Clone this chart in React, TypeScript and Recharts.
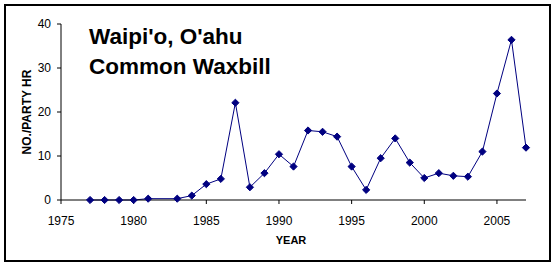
import { LineChart, Line, XAxis, YAxis } from 'recharts';

// Waipi'o, O'ahu — Common Waxbill, birds per party-hour
const years = [
  1977, 1978, 1979, 1980, 1981, 1983, 1984, 1985, 1986, 1987, 1988, 1989, 1990, 1991,
  1992, 1993, 1994, 1995, 1996, 1997, 1998, 1999, 2000, 2001, 2002, 2003, 2004, 2005,
  2006, 2007,
];
const perPartyHour = [
  0, 0, 0, 0, 0.3, 0.3, 1.0, 3.6, 4.8, 22.1, 2.9, 6.1, 10.4, 7.6,
  15.8, 15.5, 14.4, 7.6, 2.3, 9.5, 14.0, 8.5, 5.0, 6.1, 5.5, 5.3, 11.0, 24.2,
  36.4, 11.9,
];
const xTicks = [1975, 1980, 1985, 1990, 1995, 2000, 2005];
const yTicks = [0, 10, 20, 30, 40];

const chartData = years.map((year, i) => ({ year, value: perPartyHour[i] }));

const NAVY = '#000080';
const FONT = 'Arial, "Liberation Sans", sans-serif';

const Diamond = (props: any) => {
  const { cx, cy, index } = props;
  if (cx == null || cy == null) return null;
  const r = 3.6;
  return (
    <path
      key={index}
      d={`M${cx},${cy - r}L${cx + r},${cy}L${cx},${cy + r}L${cx - r},${cy}Z`}
      fill={NAVY}
      stroke={NAVY}
      strokeWidth={1}
    />
  );
};

export default function App() {
  return (
    <div style={{ position: 'absolute', left: 0, top: 0, width: 556, height: 267, background: '#fff' }}>
      <LineChart
        width={556}
        height={267}
        data={chartData}
        margin={{ top: 24, right: 30, bottom: 37, left: 21 }}
      >
        <XAxis
          dataKey="year"
          type="number"
          domain={[1975, 2007]}
          ticks={xTicks}
          height={30}
          tickSize={4}
          tickMargin={12}
          stroke="#000"
          tick={{ fill: '#000', fontSize: 12, fontFamily: FONT }}
        />
        <YAxis
          type="number"
          domain={[0, 40]}
          ticks={yTicks}
          width={40}
          tickSize={4}
          tickMargin={6}
          stroke="#000"
          tick={{ fill: '#000', fontSize: 12, fontFamily: FONT }}
        />
        <Line
          type="linear"
          dataKey="value"
          stroke={NAVY}
          strokeWidth={1}
          dot={Diamond}
          activeDot={false}
          isAnimationActive={false}
        />
      </LineChart>
      <svg
        width={556}
        height={267}
        style={{ position: 'absolute', left: 0, top: 0, pointerEvents: 'none' }}
      >
        <rect x={5} y={5} width={545} height={256} fill="none" stroke="#000" strokeWidth={2} />
        <text x={89} y={44} fontFamily={FONT} fontSize={22.5} fontWeight="bold" fill="#000">
          Waipi'o, O'ahu
        </text>
        <text x={89} y={74} fontFamily={FONT} fontSize={22.5} fontWeight="bold" fill="#000">
          Common Waxbill
        </text>
        <text
          x={27}
          y={112}
          transform="rotate(-90 27 112)"
          textAnchor="middle"
          dominantBaseline="central"
          fontFamily={FONT}
          fontSize={12}
          fontWeight="bold"
          fill="#000"
        >
          NO./PARTY HR
        </text>
        <text
          x={291}
          y={240}
          textAnchor="middle"
          dominantBaseline="central"
          fontFamily={FONT}
          fontSize={11}
          fontWeight="bold"
          fill="#000"
        >
          YEAR
        </text>
      </svg>
    </div>
  );
}
